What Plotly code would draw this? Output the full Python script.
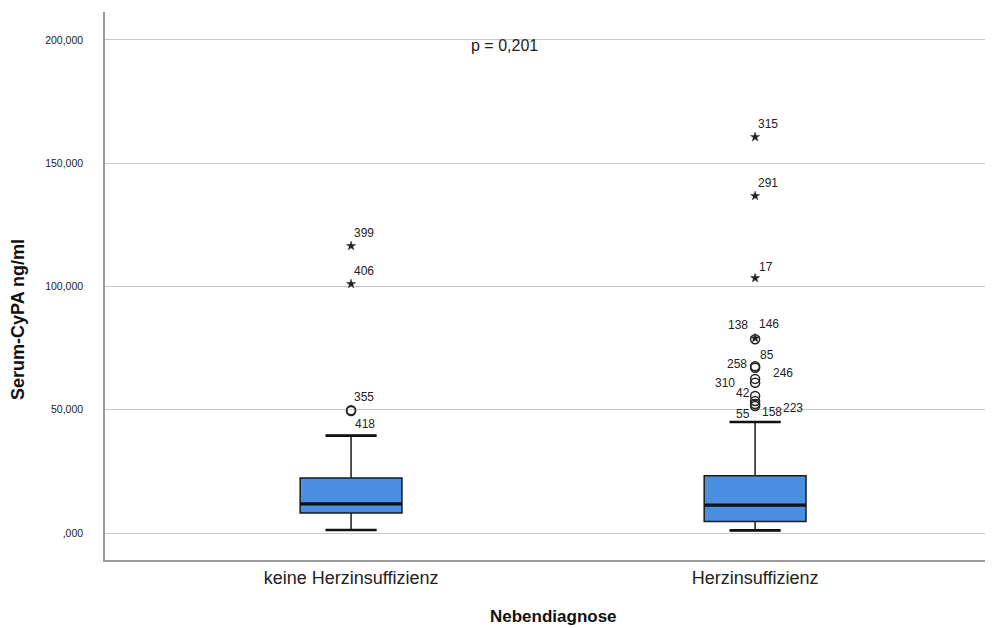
import plotly.graph_objects as go

# ---------------- data (ng/ml) ----------------
categories = ["keine Herzinsuffizienz", "Herzinsuffizienz"]
cat_pos = [0, 1]

q1_vals = [8100, 4700]
median_vals = [11800, 11300]
q3_vals = [22300, 23200]
lower_whisker = [1200, 1050]
upper_whisker = [39500, 45000]

# outliers: group index, value, case label, kind
out_group = [0, 0, 0, 0,
             1, 1, 1, 1, 1, 1, 1, 1, 1, 1, 1, 1, 1]
out_values = [116400, 101000, 49800, 49500,
              160600, 136700, 103400, 78600, 79000, 67000, 67600, 62500, 60900, 55600, 52300, 53500, 51500]
out_labels = ["399", "406", "355", "418",
              "315", "291", "17", "138", "146", "85", "258", "246", "310", "42", "55", "158", "223"]
out_kind = ["star", "star", "circle", "circle",
            "star", "star", "star", "circle", "star", "circle", "circle", "circle", "circle", "circle", "circle", "circle", "circle"]
# label offsets in pixels (style only)
lab_dx = [13, 13, 13, 14, 13, 13, 11, -17, 14, 12, -18, 28, -30, -12, -12, 17, 38]
lab_dy = [13, 13, 13, -13, 13, 13, 11, 14, 14, 13, 2, 6, 0, 3, -10, -11, -2]

y_tickvals = [0, 50000, 100000, 150000, 200000]
y_ticktext = [",000", "50,000", "100,000", "150,000", "200,000"]

p_text = "p = 0,201"
x_title = "Nebendiagnose"
y_title = "Serum-CyPA ng/ml"

# ---------------- figure ----------------
FONT = "Liberation Sans, Arial, sans-serif"
BOX_W = 0.252
LINE_C = "#1b1b1b"
W, H = 992, 628
ML, MR, MT, MB = 105, 7, 12, 68
PW, PH = W - ML - MR, H - MT - MB


def px_to_paper(xp, yp):
    return (xp - ML) / PW, (H - MB - yp) / PH


fig = go.Figure()

for i, c in enumerate(categories):
    fig.add_trace(go.Box(
        x=[cat_pos[i]], q1=[q1_vals[i]], median=[median_vals[i]], q3=[q3_vals[i]],
        lowerfence=[lower_whisker[i]], upperfence=[upper_whisker[i]],
        width=BOX_W, whiskerwidth=0.5, boxpoints=False,
        fillcolor="#4a8fe0", line=dict(color=LINE_C, width=1.5),
        showlegend=False, hoverinfo="skip", name=c,
    ))
    fig.add_trace(go.Scatter(
        x=[cat_pos[i] - BOX_W / 2, cat_pos[i] + BOX_W / 2], y=[median_vals[i]] * 2,
        mode="lines", line=dict(color="#111111", width=3.2), showlegend=False, hoverinfo="skip"))
    for v in (lower_whisker[i], upper_whisker[i]):
        fig.add_trace(go.Scatter(
            x=[cat_pos[i] - BOX_W / 4, cat_pos[i] + BOX_W / 4], y=[v, v],
            mode="lines", line=dict(color="#111111", width=2.6), showlegend=False, hoverinfo="skip"))

for kind, sym, size, lw in (("circle", "circle-open", 9, 1.5), ("star", "star", 7, 0.4)):
    xs = [cat_pos[g] for g, k in zip(out_group, out_kind) if k == kind]
    ys = [v for v, k in zip(out_values, out_kind) if k == kind]
    fig.add_trace(go.Scatter(
        x=xs, y=ys, mode="markers",
        marker=dict(symbol=sym, size=size, color="#222222", line=dict(color="#222222", width=lw)),
        showlegend=False, hoverinfo="skip"))

annotations = []
for g, v, lab, dx, dy in zip(out_group, out_values, out_labels, lab_dx, lab_dy):
    annotations.append(dict(
        x=cat_pos[g], y=v, xref="x", yref="y", text=lab, showarrow=False,
        xshift=dx, yshift=dy, xanchor="center", yanchor="middle",
        font=dict(family=FONT, size=12, color="#222222")))

px, py = px_to_paper(504, 45)
annotations.append(dict(x=px, y=py, xref="paper", yref="paper", text=p_text, showarrow=False,
                        xanchor="center", yanchor="middle",
                        font=dict(family=FONT, size=16, color="#222222")))
px, py = px_to_paper(553, 616)
annotations.append(dict(x=px, y=py, xref="paper", yref="paper", text="<b>%s</b>" % x_title,
                        xanchor="center", yanchor="middle",
                        showarrow=False, font=dict(family=FONT, size=17, color="#111111")))
px, py = px_to_paper(18, 320)
annotations.append(dict(x=px, y=py, xref="paper", yref="paper", text="<b>%s</b>" % y_title,
                        xanchor="center", yanchor="middle",
                        textangle=-90, showarrow=False, font=dict(family=FONT, size=18, color="#111111")))

fig.update_layout(
    width=W, height=H,
    margin=dict(l=ML, r=MR, t=MT, b=MB, autoexpand=False),
    paper_bgcolor="white", plot_bgcolor="white",
    xaxis=dict(
        range=[-0.609, 1.569], tickvals=cat_pos, ticktext=categories, automargin=False,
        showgrid=False, zeroline=False, showline=True, linecolor="#9a9a9a", linewidth=1.6,
        ticks="", ticklabelstandoff=1,
        tickfont=dict(family=FONT, size=18, color="#222222"),
    ),
    yaxis=dict(
        range=[-10950, 211300], tickvals=y_tickvals, ticktext=y_ticktext, automargin=False,
        showgrid=True, gridcolor="#c9c9c9", gridwidth=1.2, zeroline=False,
        showline=True, linecolor="#9a9a9a", linewidth=1.6,
        ticks="", ticklabelstandoff=18,
        tickfont=dict(family=FONT, size=10.5, color="#222222"),
    ),
    annotations=annotations,
)

fig.write_html("out.html")
